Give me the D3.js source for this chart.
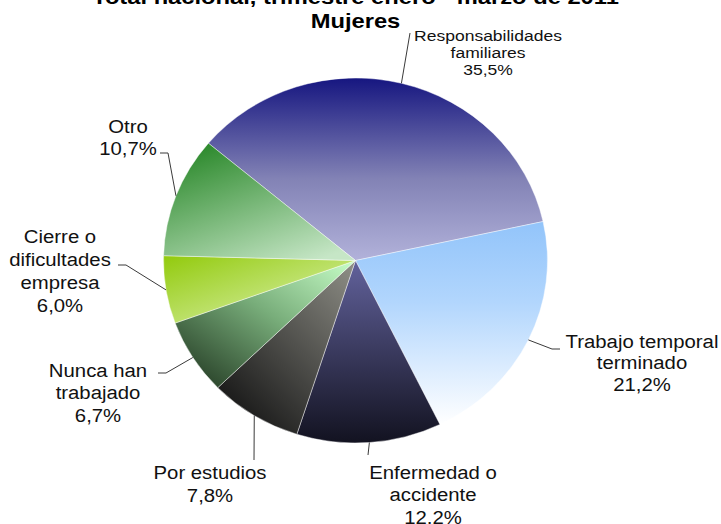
<!DOCTYPE html>
<html>
<head>
<meta charset="utf-8">
<script src="https://cdn.jsdelivr.net/npm/d3@7"></script>
<style>
  html, body { margin: 0; padding: 0; background: #fff; }
  svg { display: block; }
  text { font-family: "Liberation Sans", Arial, sans-serif; }
</style>
</head>
<body>
<svg id="chart" width="721" height="524"></svg>
<script>
// ---- data ----
const titleLines = ["Total nacional, trimestre enero - marzo de 2011", "Mujeres"];
const categories = [
  ["Responsabilidades", "familiares"],
  ["Trabajo temporal", "terminado"],
  ["Enfermedad o", "accidente"],
  ["Por estudios"],
  ["Nunca han", "trabajado"],
  ["Cierre o", "dificultades", "empresa"],
  ["Otro"]
];
const values = [35.5, 21.2, 12.2, 7.8, 6.7, 6.0, 10.7];
const valueLabels = ["35,5%", "21,2%", "12,2%", "7,8%", "6,7%", "6,0%", "10,7%"];

// ---- styles / layout ----
const gradients = [
  { x1: 0, y1: 0, x2: 0, y2: 1, stops: [[0, "#161680"], [0.55, "#8282b5"], [1, "#b2b2da"]] },
  { x1: 0, y1: 0, x2: 0, y2: 1, stops: [[0, "#92c4fa"], [0.4, "#b2d6fd"], [1, "#ffffff"]] },
  { x1: 0, y1: 0, x2: 0, y2: 1, stops: [[0, "#62629c"], [1, "#121220"]] },
  { x1: 1, y1: 0, x2: 0.2, y2: 1, stops: [[0, "#909088"], [1, "#141414"]] },
  { x1: 1, y1: 0, x2: 0, y2: 1, stops: [[0, "#c8ffc8"], [0.45, "#78ad7a"], [1, "#1a2e1a"]] },
  { x1: 0, y1: 0, x2: 1, y2: 1, stops: [[0, "#92ca0c"], [1, "#e2f5bc"]] },
  { x1: 0.2, y1: 0, x2: 0.8, y2: 1, stops: [[0, "#2a882a"], [1, "#c6e6c6"]] }
];
// label layout: centre x, first baseline, line height, font size, leader elbow points
const labelLayout = [
  { x: 488, y: 40.5, lh: 17.5, fs: 15.5, pts: [[410, 33]] },
  { x: 642, y: 348, lh: 21.5, fs: 18, pts: [[552, 349], [560, 349]] },
  { x: 433, y: 479, lh: 22.5, fs: 18, pts: [[368, 455]] },
  { x: 210, y: 479, lh: 23, fs: 18, pts: [[254, 460]] },
  { x: 98, y: 377, lh: 22.5, fs: 18, pts: [[166, 373], [158, 373]] },
  { x: 60, y: 243, lh: 23, fs: 18, pts: [[126, 265], [118, 265]] },
  { x: 128, y: 133, lh: 22, fs: 18, pts: [[168, 153], [160, 153]] }
];
const cx = 355.5, cy = 260.5, rx = 192, ry = 182.5;
const sx = 1.13;

const svg = d3.select("#chart");
const defs = svg.append("defs");
gradients.forEach((g, i) => {
  const lg = defs.append("linearGradient").attr("id", "g" + i)
    .attr("x1", g.x1).attr("y1", g.y1).attr("x2", g.x2).attr("y2", g.y2);
  g.stops.forEach(s => lg.append("stop").attr("offset", s[0]).attr("stop-color", s[1]));
});

// title
titleLines.forEach((t, i) => {
  svg.append("g").attr("transform", `translate(${cx},${4 + i * 23.5}) scale(${sx},1)`)
    .append("text").attr("text-anchor", "middle")
    .attr("font-size", 21).attr("font-weight", "bold").attr("fill", "#000").text(t);
});

// pie
const start = -50 * Math.PI / 180;
const pie = d3.pie().sort(null).startAngle(start).endAngle(start + 2 * Math.PI);
const arcs = pie(values);
const arc = d3.arc().innerRadius(0).outerRadius(rx);
const pg = svg.append("g").attr("transform", `translate(${cx},${cy}) scale(1,${ry / rx})`);
pg.selectAll("path").data(arcs).join("path")
  .attr("d", arc)
  .attr("fill", (d, i) => `url(#g${i})`)
  .attr("stroke", "rgba(255,255,255,0.55)")
  .attr("stroke-width", 0.8);

// leader lines and labels
arcs.forEach((a, i) => {
  const L = labelLayout[i];
  const mid = (a.startAngle + a.endAngle) / 2;
  const ax = cx + rx * Math.sin(mid), ay = cy - ry * Math.cos(mid);
  const pts = [[ax, ay]].concat(L.pts);
  svg.append("path").attr("d", d3.line()(pts))
    .attr("fill", "none").attr("stroke", "#3a3a3a").attr("stroke-width", 1);
  const lines = categories[i].concat([valueLabels[i]]);
  const g = svg.append("g").attr("transform", `translate(${L.x},${L.y}) scale(${sx},1)`);
  const t = g.append("text").attr("text-anchor", "middle").attr("font-size", L.fs).attr("fill", "#111");
  lines.forEach((s, j) => t.append("tspan").attr("x", 0).attr("y", j * L.lh).text(s));
});
</script>
</body>
</html>
